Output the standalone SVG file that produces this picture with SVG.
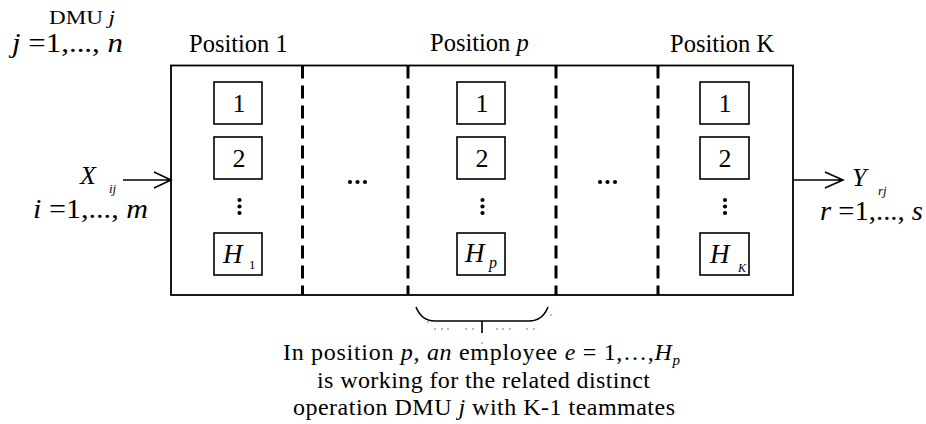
<svg xmlns="http://www.w3.org/2000/svg" width="926" height="424" viewBox="0 0 926 424">
<style>
.t{font-family:"Liberation Serif","Times New Roman",serif;fill:#000}
.i{font-style:italic}
.box{fill:#fff;stroke:#000;stroke-width:1.6}
.frame{fill:none;stroke:#000;stroke-width:1.8}
.dash{stroke:#000;stroke-width:3;stroke-dasharray:13 7;fill:none}
.ln{stroke:#000;stroke-width:1.6;fill:none}
.bl{fill:#6fa8dc}
</style>
<rect width="926" height="424" fill="#fff"/>

<g id="dmu-label">
  <text class="t" x="49" y="24" font-size="18" textLength="66" lengthAdjust="spacingAndGlyphs">DMU <tspan class="i">j</tspan></text>
  <text class="t" x="12" y="52" font-size="28" textLength="111" lengthAdjust="spacingAndGlyphs"><tspan class="i">j</tspan> =1,..., <tspan class="i">n</tspan></text>
</g>

<g id="input-label">
  <text class="t i" x="80" y="184" font-size="26">X</text>
  <text class="t i" x="109" y="193" font-size="13">ij</text>
  <text class="t" x="33" y="218" font-size="28" textLength="115" lengthAdjust="spacingAndGlyphs"><tspan class="i">i</tspan> =1,..., <tspan class="i">m</tspan></text>
</g>

<g id="output-label">
  <text class="t i" x="852" y="186" font-size="26">Y</text>
  <text class="t i" x="878" y="195" font-size="13">rj</text>
  <text class="t" x="820" y="220" font-size="28" textLength="103" lengthAdjust="spacingAndGlyphs"><tspan class="i">r</tspan> =1,..., <tspan class="i">s</tspan></text>
</g>

<g id="dmu-process">
  <rect class="frame" x="171" y="65.5" width="622" height="229.5"/>
  <line class="dash" x1="302.5" y1="65.5" x2="302.5" y2="295"/>
  <line class="dash" x1="408" y1="65.5" x2="408" y2="295"/>
  <line class="dash" x1="556" y1="65.5" x2="556" y2="295"/>
  <line class="dash" x1="658" y1="65.5" x2="658" y2="295"/>
  <g id="ellipsis-1">
    <circle cx="350" cy="182" r="2.1"/><circle cx="357.5" cy="182" r="2.1"/><circle cx="365" cy="182" r="2.1"/>
  </g>
  <g id="ellipsis-2">
    <circle cx="600" cy="182" r="2.1"/><circle cx="607.5" cy="182" r="2.1"/><circle cx="615" cy="182" r="2.1"/>
  </g>
</g>

<g id="position-1">
  <text class="t" x="189" y="52" font-size="24.5">Position 1</text>
  <rect class="box" x="214" y="82" width="48" height="42"/>
  <text class="t" x="239" y="112" font-size="26" text-anchor="middle">1</text>
  <rect class="box" x="214" y="137" width="48" height="42"/>
  <text class="t" x="239" y="167" font-size="26" text-anchor="middle">2</text>
  <circle cx="239.5" cy="200" r="2.1"/><circle cx="239.5" cy="206.5" r="2.1"/><circle cx="239.5" cy="213" r="2.1"/>
  <rect class="box" x="214" y="233" width="48" height="42"/>
  <text class="t i" x="223" y="263" font-size="27">H</text>
  <text class="t" x="249" y="269" font-size="13">1</text>
</g>

<g id="position-p">
  <text class="t" x="430" y="51" font-size="24.5">Position <tspan class="i">p</tspan></text>
  <rect class="box" x="457" y="82" width="48" height="42"/>
  <text class="t" x="482" y="112" font-size="26" text-anchor="middle">1</text>
  <rect class="box" x="457" y="137" width="48" height="42"/>
  <text class="t" x="482" y="167" font-size="26" text-anchor="middle">2</text>
  <circle cx="482.5" cy="200" r="2.1"/><circle cx="482.5" cy="206.5" r="2.1"/><circle cx="482.5" cy="213" r="2.1"/>
  <rect class="box" x="457" y="233" width="48" height="42"/>
  <text class="t i" x="465" y="262" font-size="27">H</text>
  <text class="t i" x="489" y="268" font-size="16">p</text>
</g>

<g id="position-K">
  <text class="t" x="670" y="52" font-size="24.5">Position K</text>
  <rect class="box" x="700" y="82" width="49" height="42"/>
  <text class="t" x="725" y="112" font-size="26" text-anchor="middle">1</text>
  <rect class="box" x="700" y="137" width="49" height="42"/>
  <text class="t" x="725" y="167" font-size="26" text-anchor="middle">2</text>
  <circle cx="725" cy="200" r="2.1"/><circle cx="725" cy="206.5" r="2.1"/><circle cx="725" cy="213" r="2.1"/>
  <rect class="box" x="700" y="233" width="49" height="42"/>
  <text class="t i" x="710" y="263" font-size="27">H</text>
  <text class="t i" x="738" y="272" font-size="12">K</text>
</g>

<g id="connectors">
  <path class="ln" d="M123,180 L171,180 M154,172 L171,180 L154,188"/>
  <path class="ln" d="M793,180 L843,180 M825,172 L843,180 L825,188"/>
</g>

<g id="brace-annotation">
  <path class="ln" stroke-width="1.3" d="M416,307 C420,317 426,321 435,321 L529,321 C538,321 544,317 548,307 M482,321 L482,333"/>
  <g id="selection-dots">
    <circle class="bl" cx="428" cy="322" r="0.9"/>
    <circle class="bl" cx="435" cy="329" r="0.9"/><circle class="bl" cx="442" cy="329" r="0.9"/><circle class="bl" cx="448" cy="329" r="0.9"/>
    <circle class="bl" cx="466" cy="329" r="0.9"/><circle class="bl" cx="473" cy="329" r="0.9"/>
    <circle class="bl" cx="497" cy="329" r="0.9"/><circle class="bl" cx="503" cy="329" r="0.9"/><circle class="bl" cx="510" cy="329" r="0.9"/>
    <circle class="bl" cx="527" cy="329" r="0.9"/><circle class="bl" cx="534" cy="329" r="0.9"/>
    <circle class="bl" cx="551" cy="315" r="0.9"/>
    <circle class="bl" cx="482" cy="343" r="0.9"/>
  </g>
  <text class="t" x="283" y="360" font-size="24" textLength="397" lengthAdjust="spacing">In position <tspan class="i">p, an</tspan> employee <tspan class="i">e</tspan> = 1,…,<tspan class="i">H</tspan><tspan class="i" font-size="15" dy="5">p</tspan></text>
  <text class="t" x="317" y="388" font-size="24" textLength="333" lengthAdjust="spacing">is working for the related distinct</text>
  <text class="t" x="293" y="415" font-size="24" textLength="382" lengthAdjust="spacing">operation DMU <tspan class="i">j</tspan> with K-1 teammates</text>
</g>
</svg>
